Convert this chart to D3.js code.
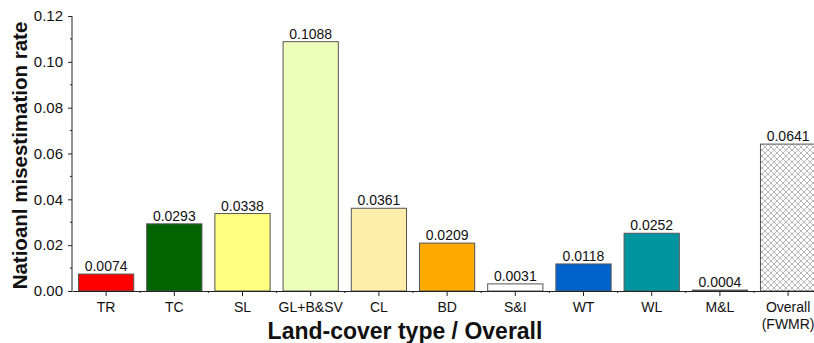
<!DOCTYPE html>
<html lang="en">
<head>
  <meta charset="UTF-8">
  <title>National misestimation rate</title>
  <style>
    body {
      margin: 0;
      padding: 0;
      background: #ffffff;
      font-family: Arial, "Liberation Sans", sans-serif;
    }
    svg { display: block; }
  </style>
</head>
<body>
<div id="chart"></div>
<script src="https://d3js.org/d3.v7.min.js"></script>
<script>
  // data
  const categories = ["TR", "TC", "SL", "GL+B&SV", "CL", "BD", "S&I", "WT", "WL", "M&L", "Overall"];
  const values = [0.0074, 0.0293, 0.0338, 0.1088, 0.0361, 0.0209, 0.0031, 0.0118, 0.0252, 0.0004, 0.0641];
  const barColors = ["#ff0000", "#006400", "#ffff80", "#eeffbb", "#ffeeaa", "#ffaa00", "#ffffff", "#0063cc", "#00959f", "#8b0000", "url(#hatch)"];
  const yTicks = [0, 0.02, 0.04, 0.06, 0.08, 0.10, 0.12];

  const width = 814;
  const height = 343;
  const x0 = 72, y0 = 291, yTop = 16;
  const step = 68.2;

  const svg = d3.select("#chart").append("svg")
    .attr("width", width)
    .attr("height", height);

  // crosshatch pattern for the overall bar
  const pat = svg.append("defs").append("pattern")
    .attr("id", "hatch")
    .attr("patternUnits", "userSpaceOnUse")
    .attr("width", 6)
    .attr("height", 6);
  pat.append("rect").attr("width", 6).attr("height", 6).attr("fill", "#fff");
  pat.append("path")
    .attr("d", "M0,0L6,6M6,0L0,6M-1,5L1,7M5,-1L7,1M-1,1L1,-1M5,7L7,5")
    .attr("stroke", "#9a9a9a")
    .attr("stroke-width", 0.7)
    .attr("fill", "none");

  const x = d3.scaleBand()
    .domain(categories)
    .range([x0, x0 + step * categories.length])
    .paddingInner(0.19)
    .paddingOuter(0.095);

  const y = d3.scaleLinear().domain([0, 0.12]).range([y0, yTop]);

  // bars
  svg.selectAll("rect.bar")
    .data(values)
    .enter()
    .append("rect")
    .attr("class", "bar")
    .attr("x", (d, i) => x(categories[i]))
    .attr("y", d => y(d))
    .attr("width", x.bandwidth())
    .attr("height", d => y0 - y(d))
    .attr("fill", (d, i) => barColors[i])
    .attr("stroke", "#555")
    .attr("stroke-width", 1);

  // value labels
  svg.selectAll("text.val")
    .data(values)
    .enter()
    .append("text")
    .attr("class", "val")
    .attr("x", (d, i) => x(categories[i]) + x.bandwidth() / 2)
    .attr("y", d => y(d) - 3)
    .attr("text-anchor", "middle")
    .attr("font-size", "14px")
    .attr("fill", "#111")
    .text(d => d.toFixed(4));

  // y axis
  const yAxis = svg.append("g")
    .attr("transform", `translate(${x0},0)`)
    .call(d3.axisLeft(y).tickValues(yTicks).tickFormat(d3.format(".2f")).tickSize(4).tickPadding(5));
  yAxis.select(".domain").attr("d", `M0,${y0}V${yTop}`).attr("stroke", "#222");
  yAxis.selectAll("text").attr("font-size", "15px").attr("font-family", "Arial, 'Liberation Sans', sans-serif").attr("fill", "#111");
  yAxis.selectAll(".tick line").attr("stroke", "#222");

  const yMinor = d3.range(0.01, 0.12, 0.02);
  svg.append("g").selectAll("line")
    .data(yMinor)
    .enter()
    .append("line")
    .attr("x1", x0 - 2)
    .attr("x2", x0)
    .attr("y1", d => y(d))
    .attr("y2", d => y(d))
    .attr("stroke", "#222");

  // x axis
  const xAxis = svg.append("g")
    .attr("transform", `translate(0,${y0})`)
    .call(d3.axisBottom(x).tickSize(5).tickPadding(6).tickSizeOuter(0));
  xAxis.select(".domain").attr("stroke", "#222");
  xAxis.selectAll(".tick line").attr("stroke", "#222");
  xAxis.selectAll("text")
    .attr("font-size", "14px")
    .attr("font-family", "Arial, 'Liberation Sans', sans-serif")
    .attr("fill", "#111");
  xAxis.selectAll(".tick").filter(d => d === "Overall").select("text")
    .append("tspan").attr("x", 0).attr("dy", "1.2em").text("(FWMR)");

  // minor x ticks at band boundaries
  svg.append("g").selectAll("line")
    .data(categories.slice(1))
    .enter()
    .append("line")
    .attr("x1", d => x(d) - x.step() * x.paddingInner() / 2)
    .attr("x2", d => x(d) - x.step() * x.paddingInner() / 2)
    .attr("y1", y0)
    .attr("y2", y0 + 2)
    .attr("stroke", "#222");

  // axis titles
  svg.append("text")
    .attr("transform", `translate(27,${(y0 + yTop) / 2 + 2}) rotate(-90)`)
    .attr("text-anchor", "middle")
    .attr("font-size", "20.5px")
    .attr("font-weight", "bold")
    .attr("fill", "#111")
    .text("Natioanl misestimation rate");

  svg.append("text")
    .attr("x", 405)
    .attr("y", 339)
    .attr("text-anchor", "middle")
    .attr("font-size", "23px")
    .attr("font-weight", "bold")
    .attr("fill", "#111")
    .text("Land-cover type / Overall");
</script>
</body>
</html>
